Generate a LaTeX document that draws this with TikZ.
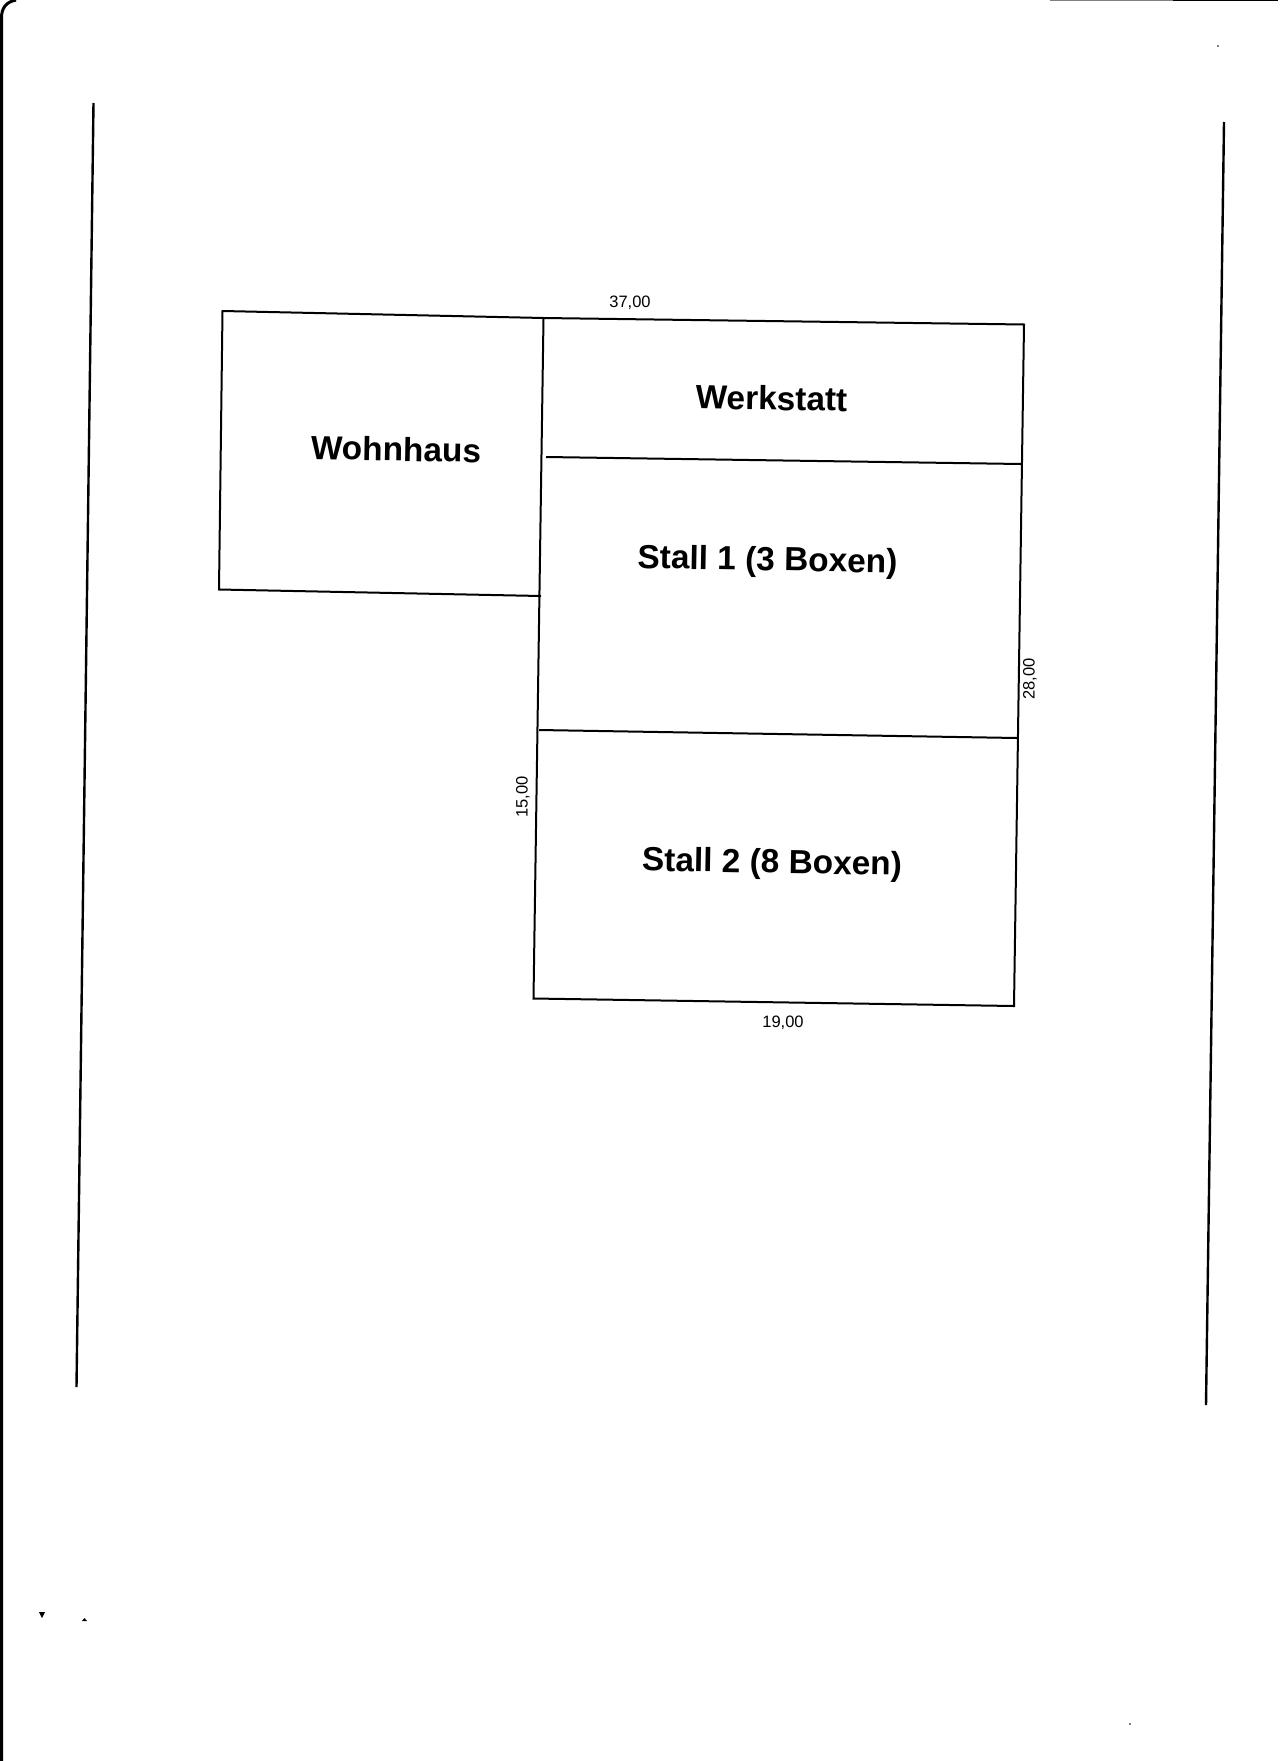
\documentclass[tikz,border=0pt]{standalone}
\usepackage{fontspec}
\setmainfont{Liberation Sans}
\usepackage{tikz}
\tikzset{
  wall/.style={black, line width=2pt},
  border/.style={black, line width=2.4pt},
  roomlabel/.style={font=\fontsize{33.4}{36}\bfseries\selectfont, rotate=-1, inner sep=0pt},
  dimlabel/.style={font=\fontsize{16.5}{18}\selectfont, inner sep=0pt}
}
\newcommand{\speck}[2]{\fill[black] (#1,#2) circle (0.9pt);}
\begin{document}
\begin{tikzpicture}[x=1pt,y=-1pt]
    \useasboundingbox (0,0) rectangle (1280,1761);
    \fill[white] (0,0) rectangle (1280,1761);
    % corners of the buildings
    \coordinate (housetl) at (222.5,311);
    \coordinate (housebl) at (219,589.5);
    \coordinate (housebr) at (541,596);
    \coordinate (walltop) at (543.5,318);
    \coordinate (wallbot) at (533.5,998.5);
    \coordinate (righttop) at (1024,324.5);
    \coordinate (rightbot) at (1014,1006);
    \coordinate (shopl) at (546,457);
    \coordinate (shopr) at (1021,464);
    \coordinate (stalll) at (539,730);
    \coordinate (stallr) at (1017,738);
    % side lines of the page
    \coordinate (leftt) at (93.5,103);
    \coordinate (leftb) at (76.5,1387);
    \coordinate (rightt) at (1224,122);
    \coordinate (rightb) at (1206,1405);
    \draw[border] (leftt) -- (leftb);
    \draw[border] (rightt) -- (rightb);
    % buildings
    \draw[wall] (housebr) -- (housebl) -- (housetl) -- (walltop) -- (righttop) -- (rightbot) -- (wallbot) -- (walltop);
    \draw[wall] (shopl) -- (shopr);
    \draw[wall] (stalll) -- (stallr);
    \node[roomlabel] (wohnhaus) at (396,449) {Wohnhaus};
    \node[roomlabel] (werkstatt) at (771.5,398) {Werkstatt};
    \node[roomlabel] (stalla) at (767.5,562) {Stall 1 (3 Boxen)};
    \node[roomlabel] (stallb) at (772,864.5) {Stall 2 (8 Boxen)};
    \node[dimlabel] (dimtop) at (630,303) {37,00};
    \node[dimlabel] (dimbot) at (783,1023) {19,00};
    \node[dimlabel, rotate=90] (dimright) at (1030,679) {28,00};
    \node[dimlabel, rotate=90] (dimleft) at (523,797) {15,00};
    % edge of the scan
    \draw[black, line width=3pt] (1.5,1761) -- (1.5,18) .. controls (1.5,8) and (6,2) .. (16,0);
    \draw[gray, line width=1.5pt] (1050,0.5) -- (1173,0.5);
    \draw[black, line width=1.5pt] (1173,0.5) -- (1278,0.5);
    % specks
    \fill[black] (39,1612) -- (45,1612) -- (42,1618) -- cycle;
    \fill[black] (82,1621) -- (87,1621) -- (84.5,1618) -- cycle;
    \speck{1218}{46}
    \speck{1130}{1724}
\end{tikzpicture}
\end{document}
